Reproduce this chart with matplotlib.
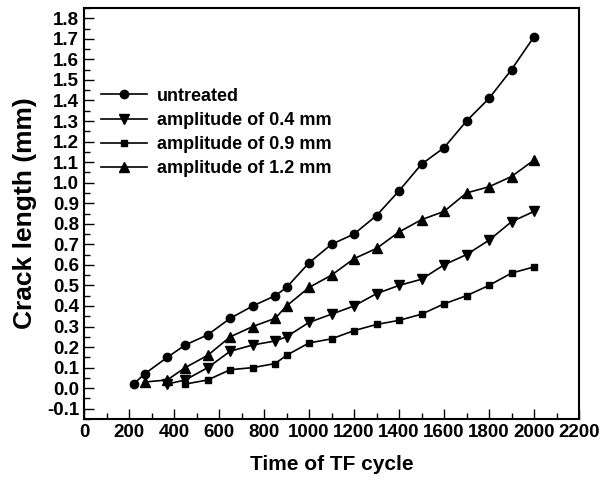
import matplotlib
matplotlib.use("Agg")
import matplotlib.pyplot as plt
from matplotlib.ticker import MultipleLocator

plt.rcParams['font.family'] = ['Liberation Sans', 'DejaVu Sans']
plt.rcParams['font.weight'] = 'bold'

x_untreated = [220, 270, 370, 450, 550, 650, 750, 850, 900, 1000, 1100, 1200, 1300, 1400, 1500, 1600, 1700, 1800, 1900, 2000]
y_untreated = [0.02, 0.07, 0.15, 0.21, 0.26, 0.34, 0.40, 0.45, 0.49, 0.61, 0.70, 0.75, 0.84, 0.96, 1.09, 1.17, 1.30, 1.41, 1.55, 1.71]

x_04 = [370, 450, 550, 650, 750, 850, 900, 1000, 1100, 1200, 1300, 1400, 1500, 1600, 1700, 1800, 1900, 2000]
y_04 = [0.02, 0.04, 0.10, 0.18, 0.21, 0.23, 0.25, 0.32, 0.36, 0.40, 0.46, 0.50, 0.53, 0.60, 0.65, 0.72, 0.81, 0.86]

x_09 = [450, 550, 650, 750, 850, 900, 1000, 1100, 1200, 1300, 1400, 1500, 1600, 1700, 1800, 1900, 2000]
y_09 = [0.02, 0.04, 0.09, 0.10, 0.12, 0.16, 0.22, 0.24, 0.28, 0.31, 0.33, 0.36, 0.41, 0.45, 0.50, 0.56, 0.59]

x_12 = [270, 370, 450, 550, 650, 750, 850, 900, 1000, 1100, 1200, 1300, 1400, 1500, 1600, 1700, 1800, 1900, 2000]
y_12 = [0.03, 0.04, 0.10, 0.16, 0.25, 0.30, 0.34, 0.40, 0.49, 0.55, 0.63, 0.68, 0.76, 0.82, 0.86, 0.95, 0.98, 1.03, 1.11]

labels = ["untreated", "amplitude of 0.4 mm", "amplitude of 0.9 mm", "amplitude of 1.2 mm"]

fig = plt.figure(figsize=(6.16, 4.87), dpi=100)
ax = fig.add_axes([84/616, 1-419/487, (579-84)/616, (419-8)/487])

kw = dict(color='black', lw=1.2)
ax.plot(x_untreated, y_untreated, marker='o', ms=6, label=labels[0], **kw)
ax.plot(x_04, y_04, marker='v', ms=7, label=labels[1], **kw)
ax.plot(x_09, y_09, marker='s', ms=5, label=labels[2], **kw)
ax.plot(x_12, y_12, marker='^', ms=7, label=labels[3], **kw)

ax.set_xlim(0, 2200)
ax.set_ylim(-0.15, 1.85)
ax.xaxis.set_major_locator(MultipleLocator(200))
ax.xaxis.set_minor_locator(MultipleLocator(100))
ax.yaxis.set_minor_locator(MultipleLocator(0.05))
ax.set_yticks([round(-0.1 + 0.1*i, 1) for i in range(20)])
ax.set_yticklabels([f"{-0.1 + 0.1*i:.1f}" for i in range(20)])

ax.tick_params(which='both', direction='in', top=False, right=False, width=1.0, labelsize=13.5)
ax.tick_params(which='major', length=7)
ax.tick_params(which='minor', length=4)
for s in ax.spines.values():
    s.set_linewidth(1.5)

ax.set_xlabel("Time of TF cycle", fontsize=15, fontweight='bold', labelpad=10)
ax.set_ylabel("Crack length (mm)", fontsize=19, fontweight='bold', labelpad=7)

leg = ax.legend(loc='upper left', bbox_to_anchor=(0.034, 0.806), frameon=False,
                fontsize=13, handlelength=2.55, handletextpad=0.55,
                labelspacing=0.4, borderpad=0, borderaxespad=0)

fig.savefig("out.png", dpi=100)
